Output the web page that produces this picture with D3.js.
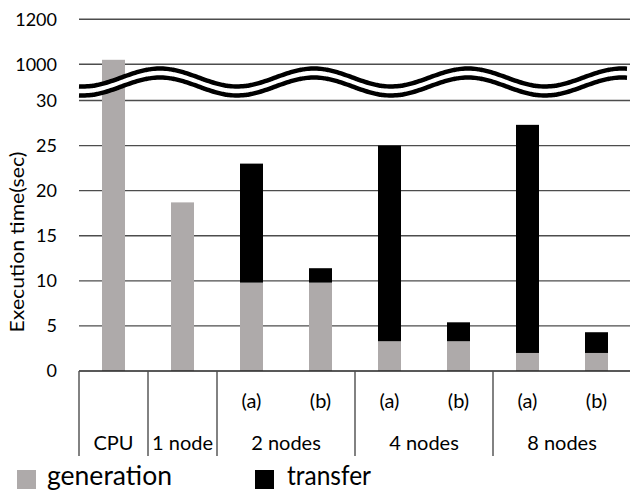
<!DOCTYPE html>
<html>
<head>
<meta charset="utf-8">
<script src="https://cdn.jsdelivr.net/npm/d3@7"></script>
<style>
  html, body { margin: 0; padding: 0; background: #fff; }
  svg { display: block; font-family: Lato, "Liberation Sans", sans-serif; }
</style>
</head>
<body>
<svg id="chart" width="630" height="492"></svg>
<script>
// Execution time per configuration, split into generation and transfer (sec)
const barKeys    = ["CPU", "1 node", "2a", "2b", "4a", "4b", "8a", "8b"];
const subLabels  = ["", "", "(a)", "(b)", "(a)", "(b)", "(a)", "(b)"];
const groups     = [
  { label: "CPU",     from: 0, to: 0 },
  { label: "1 node",  from: 1, to: 1 },
  { label: "2 nodes", from: 2, to: 3 },
  { label: "4 nodes", from: 4, to: 5 },
  { label: "8 nodes", from: 6, to: 7 }
];
const generation = [1020, 18.7, 9.8, 9.8, 3.3, 3.3, 2.0, 2.0];
const transfer   = [0, 0, 13.2, 1.6, 21.7, 2.1, 25.3, 2.3];
const lowerTicks = [0, 5, 10, 15, 20, 25, 30];
const upperTicks = [1000, 1200];
const seriesNames  = ["generation", "transfer"];
const seriesColors = ["#aeaaaa", "#000000"];

const svg = d3.select("#chart");
const left = 79, right = 631;

// Broken value axis: 0–30 in the lower part, 1000–1200 above the break
const yLow  = d3.scaleLinear().domain([0, 30]).range([371, 100.5]);
const yHigh = d3.scaleLinear().domain([1000, 1200]).range([64.3, 19.3]);
const y = v => (v <= 30 ? yLow(v) : yHigh(v));

const x = d3.scaleBand()
  .domain(barKeys)
  .range([left, right])
  .paddingInner(2 / 3)
  .paddingOuter(1 / 3);
const step = x.step();

// Gridlines
const gridVals = lowerTicks.filter(v => v > 0).map(v => yLow(v))
  .concat(upperTicks.map(v => yHigh(v)));
svg.append("g").selectAll("line").data(gridVals).join("line")
  .attr("x1", left).attr("x2", 630)
  .attr("y1", d => d).attr("y2", d => d)
  .attr("stroke", "#4d4d4d").attr("stroke-width", 1.4);

// Stacked bars
const stacked = d3.stack().keys(seriesNames)(
  barKeys.map((k, i) => ({ key: k, generation: generation[i], transfer: transfer[i] }))
);
svg.append("g").selectAll("g").data(stacked).join("g")
  .attr("fill", (d, i) => seriesColors[i])
  .selectAll("rect").data(d => d.filter(p => p[1] > p[0])).join("rect")
  .attr("x", d => x(d.data.key))
  .attr("width", x.bandwidth())
  .attr("y", d => y(d[1]))
  .attr("height", d => y(d[0]) - y(d[1]));

// Axis break: wavy double line
const waveX = d3.range(left, 628.5, 2);
const waveTop = xx => 77.5 - 9 * Math.cos(2 * Math.PI * (xx - 160) / 154);
const gap = 9;
svg.append("path")
  .attr("d", d3.area().x(d => d).y0(d => waveTop(d) + gap).y1(d => waveTop(d)).curve(d3.curveBasis)(waveX))
  .attr("fill", "#fff");
[0, gap].forEach(off => {
  svg.append("path")
    .attr("d", d3.line().x(d => d).y(d => waveTop(d) + off).curve(d3.curveBasis)(waveX))
    .attr("fill", "none").attr("stroke", "#000").attr("stroke-width", 4.5);
});

// Baseline
svg.append("line")
  .attr("x1", left).attr("x2", 630)
  .attr("y1", yLow(0)).attr("y2", yLow(0))
  .attr("stroke", "#222").attr("stroke-width", 1.4);

// Value tick labels
const tickG = svg.append("g").attr("font-size", 18).attr("fill", "#000").attr("text-anchor", "end");
lowerTicks.forEach(v => tickG.append("text").attr("x", 57).attr("y", yLow(v)).attr("dy", "0.35em").text(v));
upperTicks.forEach(v => tickG.append("text").attr("x", 57).attr("y", yHigh(v)).attr("dy", "0.35em").text(v));

// Axis title
svg.append("text")
  .attr("transform", "translate(24,242) rotate(-90)")
  .attr("text-anchor", "middle")
  .attr("font-size", 19)
  .attr("textLength", 181)
  .attr("lengthAdjust", "spacingAndGlyphs")
  .text("Execution time(sec)");

// Category separators
const bounds = [left].concat(groups.map(g => left + (g.to + 1) * step));
svg.append("g").selectAll("line").data(bounds).join("line")
  .attr("x1", d => d).attr("x2", d => d)
  .attr("y1", yLow(0)).attr("y2", 456)
  .attr("stroke", "#4d4d4d").attr("stroke-width", 1.4);

// Sub labels and group labels
svg.append("g").attr("font-size", 20).attr("text-anchor", "middle")
  .selectAll("text").data(barKeys).join("text")
  .attr("x", d => x(d) + x.bandwidth() / 2)
  .attr("y", 408)
  .text((d, i) => subLabels[i]);
svg.append("g").attr("font-size", 20).attr("text-anchor", "middle")
  .selectAll("text").data(groups).join("text")
  .attr("x", g => left + (g.from + g.to + 1) / 2 * step)
  .attr("y", 450)
  .text(g => g.label);

// Legend
const legend = [
  { name: seriesNames[0], color: seriesColors[0], sx: 17, tx: 47, w: 125 },
  { name: seriesNames[1], color: seriesColors[1], sx: 255, tx: 287, w: 84 }
];
const lg = svg.append("g");
lg.selectAll("rect").data(legend).join("rect")
  .attr("x", d => d.sx).attr("y", 470).attr("width", 19).attr("height", 19)
  .attr("fill", d => d.color);
lg.selectAll("text").data(legend).join("text")
  .attr("x", d => d.tx).attr("y", 485)
  .attr("font-size", 26)
  .attr("textLength", d => d.w)
  .attr("lengthAdjust", "spacingAndGlyphs")
  .text(d => d.name);
</script>
</body>
</html>
